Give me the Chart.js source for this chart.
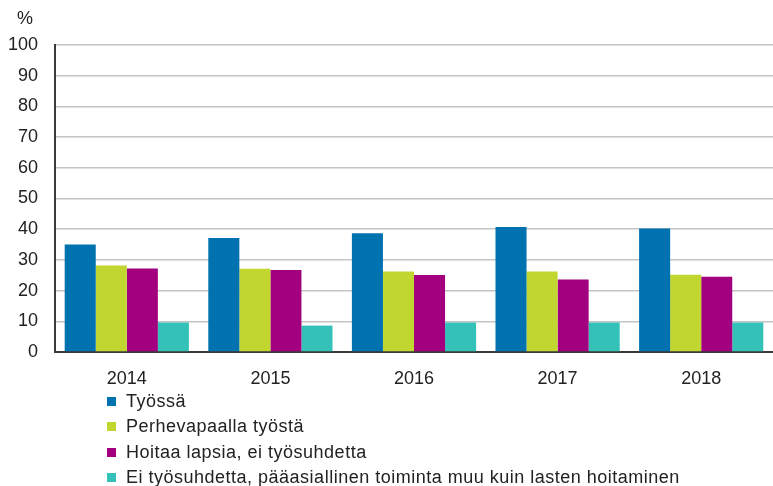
<!DOCTYPE html>
<html>
<head>
<meta charset="utf-8">
<script src="https://cdn.jsdelivr.net/npm/chart.js@4.4.0/dist/chart.umd.min.js"></script>
<style>
  html, body { margin: 0; padding: 0; background: #fff; }
  #wrap { position: relative; width: 773px; height: 486px; }
  #legend { position: absolute; left: 107px; top: 389px; margin: 0; padding: 0; list-style: none;
    font-family: "Liberation Sans", Arial, sans-serif; font-size: 18px; letter-spacing: 0.5px; color: #222; }
  #legend li { height: 25.3px; line-height: 25px; white-space: nowrap; }
  #legend span { display: inline-block; width: 9px; height: 9px; margin-right: 10px; vertical-align: 1px; }
</style>
</head>
<body>
<div id="wrap">
  <canvas id="chart" width="773" height="486"></canvas>
  <ul id="legend"></ul>
</div>
<script>
const years = ["2014", "2015", "2016", "2017", "2018"];
const seriesNames = [
  "Työssä",
  "Perhevapaalla työstä",
  "Hoitaa lapsia, ei työsuhdetta",
  "Ei työsuhdetta, pääasiallinen toiminta muu kuin lasten hoitaminen"
];
const tyossa = [35.0, 37.1, 38.7, 40.7, 40.2];
const perhevapaalla = [28.2, 27.1, 26.2, 26.2, 25.2];
const hoitaaLapsia = [27.2, 26.7, 25.1, 23.6, 24.5];
const eiTyosuhdetta = [9.6, 8.6, 9.6, 9.6, 9.6];
const colors = ["#0072b0", "#c1d62e", "#a2007e", "#34c1b8"];

const ctx = document.querySelector("#chart").getContext("2d");
const font = "'Liberation Sans', Arial, sans-serif";

const percentLabel = {
  id: "percentLabel",
  afterDraw(chart) {
    const c = chart.ctx;
    c.save();
    c.font = "18px " + font;
    c.fillStyle = "#222";
    c.textAlign = "center";
    c.textBaseline = "middle";
    c.fillText("%", 25, 19);
    c.restore();
  }
};

const values = [tyossa, perhevapaalla, hoitaaLapsia, eiTyosuhdetta];
const datasets = seriesNames.map((name, i) => ({
  label: name,
  data: values[i],
  backgroundColor: colors[i],
  borderWidth: 0
}));

new Chart(ctx, {
  type: "bar",
  data: { labels: years, datasets: datasets },
  options: {
    responsive: false,
    animation: false,
    layout: { padding: { top: 45, right: 0, bottom: 94, left: 0 } },
    datasets: { bar: { categoryPercentage: 0.865, barPercentage: 1 } },
    plugins: { legend: { display: false }, tooltip: { enabled: false } },
    scales: {
      x: {
        grid: { display: false, drawTicks: false },
        border: { color: "#3a3a3a", width: 2 },
        ticks: { color: "#222", padding: 16, font: { family: font, size: 18 } },
        afterFit: (scale) => { scale.height = 40; }
      },
      y: {
        min: 0,
        max: 100,
        ticks: { stepSize: 10, color: "#222", padding: 17, font: { family: font, size: 18 } },
        grid: { color: "#c4c4c4", lineWidth: 1.5, drawTicks: false },
        border: { color: "#3a3a3a", width: 2 },
        afterFit: (scale) => { scale.width = 55; }
      }
    }
  },
  plugins: [percentLabel]
});

const legend = document.querySelector("#legend");
seriesNames.forEach((name, i) => {
  const li = document.createElement("li");
  const box = document.createElement("span");
  box.style.background = colors[i];
  li.appendChild(box);
  li.appendChild(document.createTextNode(name));
  legend.appendChild(li);
});
</script>
</body>
</html>
